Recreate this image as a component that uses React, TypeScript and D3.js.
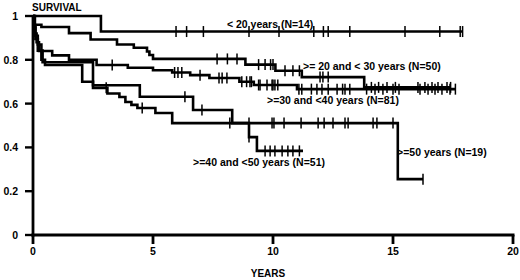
import React from "react";
import * as d3 from "d3";

const xTicks = [0, 5, 10, 15, 20];
const yTicks = [0, 0.2, 0.4, 0.6, 0.8, 1];
const yTickLabels = ["0", "0.2", "0.4", "0.6", "0.8", "1"];

// <20 years (N=14)
const lt20Times = [2.83];
const lt20Surv = [0.929];
const lt20End = 17.9;
const lt20Cens = [5.96, 6.4, 7.1, 9.0, 10.25, 11.7, 12.1, 12.3, 13.2, 15.5, 16.95, 17.8, 17.9];

// >=20 and <30 years (N=50)
const a20Times = [0.08, 0.35, 1.5, 2.4, 3.5, 4.2, 4.75, 4.85, 5.0, 8.85, 10.1, 11.2, 13.8];
const a20Surv = [0.96, 0.95, 0.922, 0.893, 0.87, 0.855, 0.838, 0.822, 0.804, 0.778, 0.75, 0.721, 0.674];
const a20End = 17.4;
const a20Cens = [7.67, 8.1, 8.5, 9.4, 9.67, 9.9, 10.0, 10.5, 10.83, 11.1, 11.96, 12.08, 12.3, 14.1, 14.4, 14.75, 15.1, 16.04, 16.33, 16.625, 16.875, 17.25, 17.4];

// >=30 and <40 years (N=81)
const a30Times = [0.04, 0.1, 0.2, 0.35, 0.8, 1.5, 2.65, 3.95, 5.0, 5.8, 6.55, 7.35, 8.6, 9.2, 11.0];
const a30Surv = [0.95, 0.91, 0.87, 0.84, 0.82, 0.8, 0.776, 0.764, 0.752, 0.742, 0.73, 0.717, 0.7, 0.685, 0.666];
const a30End = 17.6;
const a30Cens = [3.3, 5.9, 6.04, 6.2, 6.96, 7.75, 7.88, 8.08, 8.7, 8.9, 9.04, 9.1, 9.4, 9.46, 9.75, 9.96, 10.0, 10.08, 10.2, 11.08, 11.2, 11.6, 11.83, 12.04, 12.3, 12.67, 12.9, 13.0, 13.2, 13.9, 14.25, 14.58, 15.0, 15.25, 16.125, 16.46, 16.75, 17.04, 17.375, 17.6];

// >=40 and <50 years (N=51)
const a40Times = [0.03, 0.08, 0.15, 0.25, 0.35, 0.5, 2.05, 2.5, 3.1, 3.6, 3.85, 4.1, 4.35, 5.1, 5.8, 9.0, 9.33];
const a40Surv = [0.96, 0.92, 0.88, 0.84, 0.8, 0.776, 0.7, 0.672, 0.646, 0.63, 0.607, 0.594, 0.58, 0.557, 0.511, 0.447, 0.384];
const a40End = 11.25;
const a40Cens = [3.05, 4.55, 8.2, 9.0, 9.67, 9.88, 10.08, 10.38, 10.62, 10.83, 11.1];

// >=50 years (N=19)
const a50Times = [0.05, 0.1, 0.2, 0.4, 2.5, 4.45, 6.67, 8.3, 15.2];
const a50Surv = [0.947, 0.895, 0.842, 0.789, 0.684, 0.631, 0.571, 0.511, 0.255];
const a50End = 16.25;
const a50Cens = [6.33, 7.04, 9.0, 9.96, 10.04, 10.46, 11.17, 11.88, 12.13, 12.5, 13.0, 13.13, 14.17, 14.33, 15.0, 16.25];

const curves = [
  { times: lt20Times, surv: lt20Surv, end: lt20End, cens: lt20Cens },
  { times: a20Times, surv: a20Surv, end: a20End, cens: a20Cens },
  { times: a30Times, surv: a30Surv, end: a30End, cens: a30Cens },
  { times: a40Times, surv: a40Surv, end: a40End, cens: a40Cens },
  { times: a50Times, surv: a50Surv, end: a50End, cens: a50Cens },
];

const labels = [
  { text: "< 20 years (N=14)", t: 8.08, s: 0.945 },
  { text: ">= 20 and < 30 years (N=50)", t: 11.25, s: 0.753 },
  { text: ">=30 and <40 years (N=81)", t: 9.75, s: 0.598 },
  { text: ">=40 and <50 years (N=51)", t: 6.67, s: 0.315 },
  { text: ">=50 years (N=19)", t: 15.17, s: 0.361 },
];

const W = 520;
const H = 280;
const x = d3.scaleLinear().domain([0, 20]).range([33, 513]);
const y = d3.scaleLinear().domain([0, 1]).range([235, 16]);

function survAt(times: number[], surv: number[], t: number) {
  let s = 1;
  for (let i = 0; i < times.length; i++) {
    if (times[i] <= t) s = surv[i];
  }
  return s;
}

export default function App() {
  const line = d3
    .line<[number, number]>()
    .x((d) => x(d[0]))
    .y((d) => y(d[1]))
    .curve(d3.curveStepAfter);

  const font = "'Liberation Sans', Arial, sans-serif";

  return (
    <svg width={W} height={H} style={{ position: "absolute", left: 0, top: 0, background: "#fff" }}>
      <rect x={0} y={0} width={W} height={H} fill="#fff" />
      {/* axes */}
      <line x1={x(0)} x2={x(0)} y1={y(1)} y2={y(0) + 1.5} stroke="#000" strokeWidth={2.8} />
      <line x1={x(0) - 1.5} x2={x(20) + 1.5} y1={y(0)} y2={y(0)} stroke="#000" strokeWidth={2.8} />
      {yTicks.map((v, i) => (
        <g key={"y" + i}>
          <line x1={x(0) - 8} x2={x(0)} y1={y(v)} y2={y(v)} stroke="#000" strokeWidth={2.4} />
          <text x={18} y={y(v) + 4} textAnchor="end" fontFamily={font} fontWeight="bold" fontSize={10.5}>
            {yTickLabels[i]}
          </text>
        </g>
      ))}
      {xTicks.map((v) => (
        <g key={"x" + v}>
          <line x1={x(v)} x2={x(v)} y1={y(0)} y2={y(0) + 9} stroke="#000" strokeWidth={2.8} />
          <text x={x(v)} y={255} textAnchor="middle" fontFamily={font} fontWeight="bold" fontSize={10.5}>
            {v}
          </text>
        </g>
      ))}
      <text x={32} y={11} fontFamily={font} fontWeight="bold" fontSize={10}>
        SURVIVAL
      </text>
      <text x={268} y={277} textAnchor="middle" fontFamily={font} fontWeight="bold" fontSize={10}>
        YEARS
      </text>
      {curves.map((c, ci) => {
        const pts: [number, number][] = [[0, 1]];
        c.times.forEach((t, i) => pts.push([t, c.surv[i]]));
        pts.push([c.end, c.surv[c.surv.length - 1]]);
        return (
          <g key={"c" + ci}>
            <path d={line(pts) || ""} fill="none" stroke="#000" strokeWidth={2.6} />
            {c.cens.map((t, k) => {
              const s = survAt(c.times, c.surv, t);
              return (
                <line
                  key={k}
                  x1={x(t)}
                  x2={x(t)}
                  y1={y(s) - 5.5}
                  y2={y(s) + 5.5}
                  stroke="#000"
                  strokeWidth={1.5}
                />
              );
            })}
          </g>
        );
      })}
      {labels.map((l, i) => (
        <text
          key={"l" + i}
          x={x(l.t)}
          y={y(l.s)}
          textAnchor="start"
          fontFamily={font}
          fontWeight="bold"
          fontSize={10.5}
        >
          {l.text}
        </text>
      ))}
    </svg>
  );
}
